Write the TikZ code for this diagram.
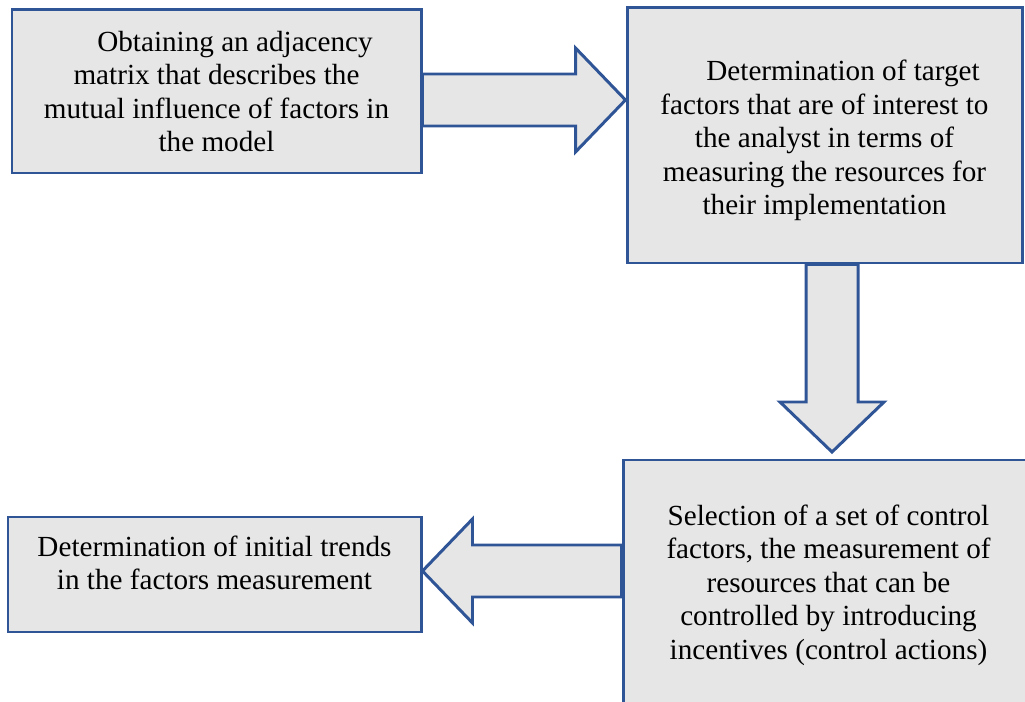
\documentclass[tikz,border=0pt]{standalone}
\usepackage{fontspec}
\setmainfont{Liberation Serif}
\usetikzlibrary{calc, backgrounds}

\definecolor{boxblue}{RGB}{47,85,151}
\definecolor{boxgray}{RGB}{230,230,230}

% block arrow from #1 to the tip #2
\newcommand{\blockarrow}[2]{%
	\coordinate (hb) at ($(#2)!1cm!(#1)$);
	\draw[bigarrow] ($(#1)!0.52cm!90:(#2)$) -- ($(hb)!0.52cm!-90:(#1)$) -- ($(hb)!1.04cm!-90:(#1)$) -- (#2)
		-- ($(hb)!1.04cm!90:(#1)$) -- ($(hb)!0.52cm!90:(#1)$) -- ($(#1)!0.52cm!-90:(#2)$) -- cycle;
}

\begin{document}
\begin{tikzpicture}
				\tikzstyle{step box}=[draw=boxblue, line width=1.7pt, fill=boxgray, inner sep=0pt, align=center,
					font=\fontsize{16.6pt}{19.1pt}\selectfont]
				\tikzstyle{bigarrow}=[draw=boxblue, line width=1.7pt, fill=boxgray, line join=miter]
				\tikzstyle{txt}=[inner sep=0pt, align=center, font=\fontsize{16.6pt}{19.1pt}\selectfont]

				\clip (0,0) rectangle (20.5,-14.04);

				\node [step box, minimum width=8.18cm, minimum height=3.26cm] (adj) at (4.33,-1.83)
					{\hspace*{0.74cm}Obtaining an adjacency\\ matrix that describes the\\ mutual influence of factors in\\ the model};
				\node [step box, minimum width=7.9cm, minimum height=5.1cm] (target) at (16.49,-2.71) {};
				\node [txt] (targettext) at ([yshift=-0.1cm]target.center)
					{\hspace*{0.74cm}Determination of target\\ factors that are of interest to\\ the analyst in terms of\\ measuring the resources for\\ their implementation};
				\node [step box, minimum width=8.22cm, minimum height=5cm] (control) at (16.57,-11.7)
					{Selection of a set of control\\ factors, the measurement of\\ resources that can be\\ controlled by introducing\\ incentives (control actions)};
				\node [step box, minimum width=8.26cm, minimum height=2.3cm] (trend) at (4.29,-11.49) {};
				\node [txt] (trendtext) at ([yshift=0.23cm]trend.center)
					{Determination of initial trends\\ in the factors measurement};

				% arrow ends
				\coordinate (adjout) at ($(adj.east)+(0,-0.17)$);
				\coordinate (targetin) at (target.west |- adjout);
				\coordinate (targetout) at ($(target.south)+(0.15,0)$);
				\coordinate (controlin) at ($(targetout |- control.north)+(0,0.13)$);
				\coordinate (controlout) at ($(control.west)+(0,0.28)$);
				\coordinate (trendin) at (trend.east |- controlout);

				\begin{scope}[on background layer]
					\blockarrow{adjout}{targetin}
					\blockarrow{targetout}{controlin}
					\blockarrow{controlout}{trendin}
				\end{scope}
			\end{tikzpicture}
\end{document}
